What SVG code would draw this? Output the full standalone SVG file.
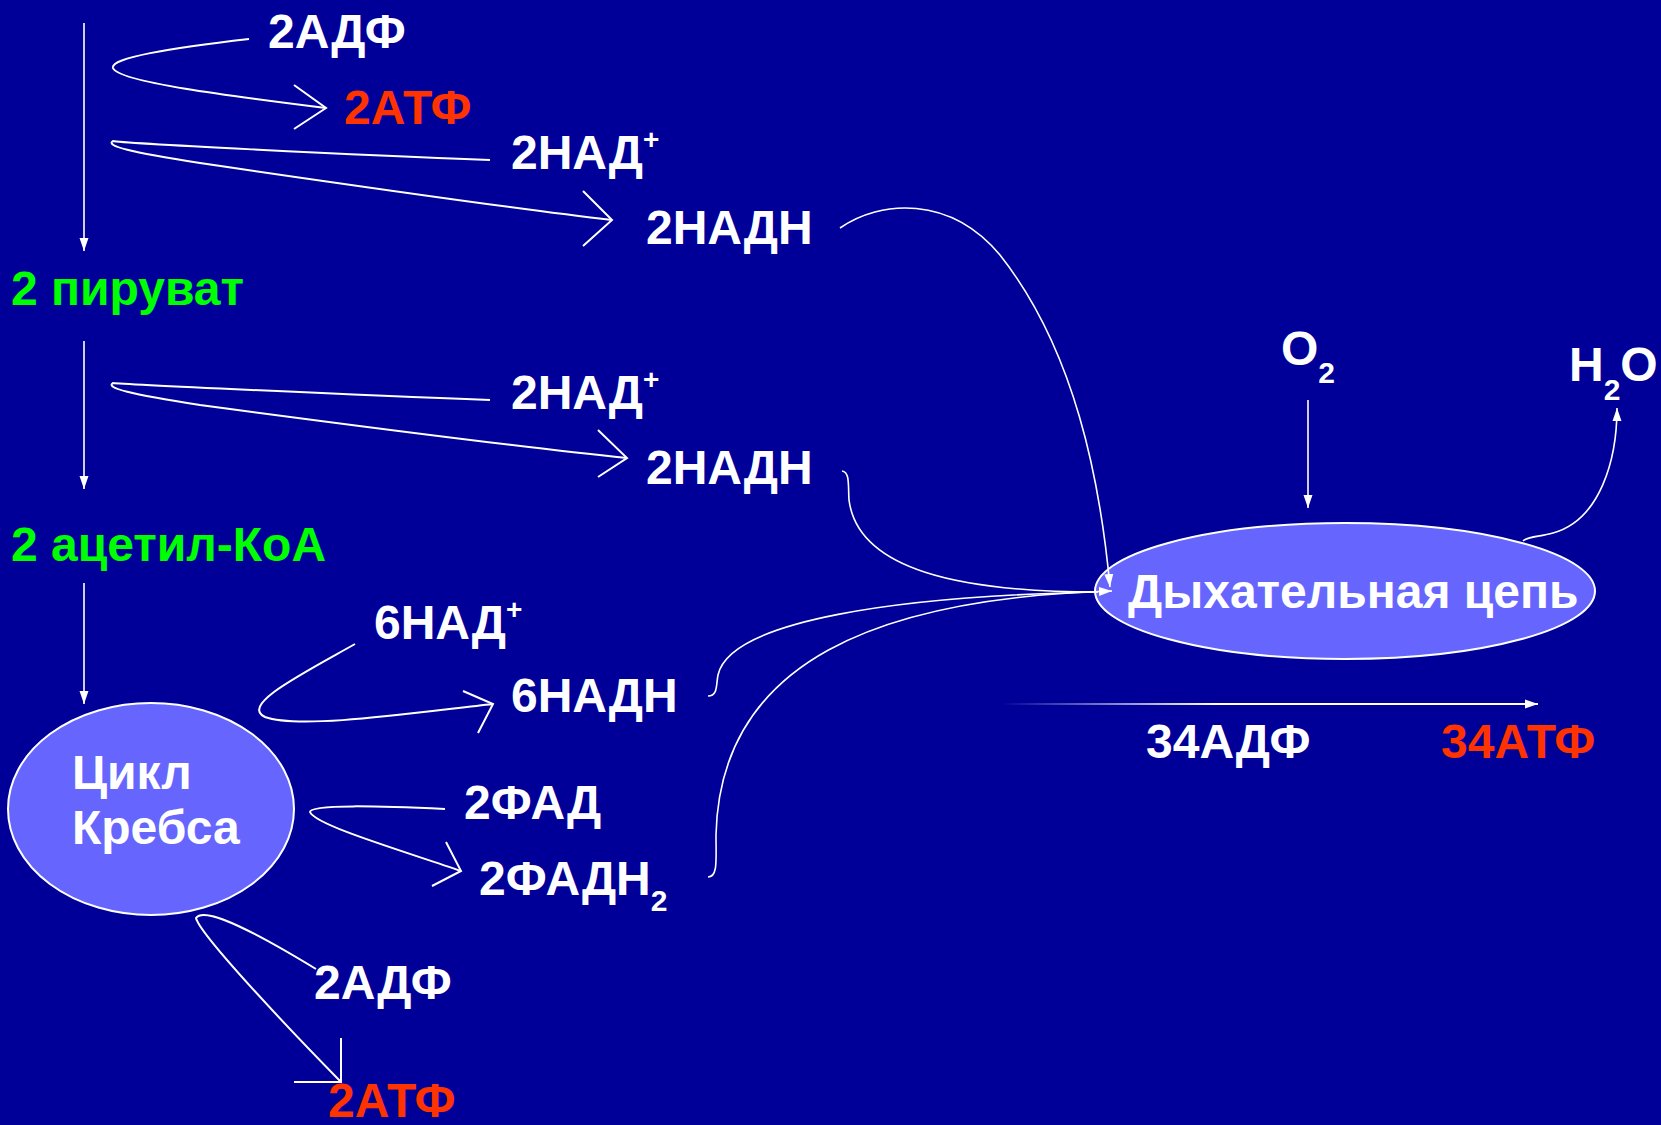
<svg xmlns="http://www.w3.org/2000/svg" width="1661" height="1125" viewBox="0 0 1661 1125">
<style>
.t{font-family:"Liberation Sans",Arial,sans-serif;font-weight:bold;font-size:48px;fill:#fff}
.g{fill:#00ff00}
.r{fill:#ff3300}
.ln{fill:none;stroke:#fff;stroke-width:2}
.th{fill:none;stroke:#fff;stroke-width:1.6}
.node{fill:#6666ff;stroke:#fff;stroke-width:2}
</style>
<defs>
<marker id="ah" markerWidth="13" markerHeight="10" refX="13" refY="5" orient="auto" markerUnits="userSpaceOnUse" viewBox="0 0 13 10">
<path d="M0,0.5 L13,5 L0,9.5 z" fill="#fff"/>
</marker>
<linearGradient id="fade" x1="1001" y1="0" x2="1538" y2="0" gradientUnits="userSpaceOnUse">
<stop offset="0" stop-color="#fff" stop-opacity="0"/>
<stop offset="0.4" stop-color="#fff" stop-opacity="1"/>
<stop offset="1" stop-color="#fff" stop-opacity="1"/>
</linearGradient>
</defs>
<rect width="1661" height="1125" fill="#000099"/>

<g id="n-adp1"><text class="t" x="268" y="48">2АДФ</text></g>
<g id="n-atp1"><text class="t r" x="344" y="124">2АТФ</text></g>
<g id="n-nad1"><text class="t" x="511" y="169">2НАД<tspan font-size="28" dy="-20">+</tspan></text></g>
<g id="n-nadh1"><text class="t" x="646" y="244">2НАДН</text></g>
<g id="n-pyr"><text class="t g" x="11" y="305">2 пируват</text></g>
<g id="n-nad2"><text class="t" x="511" y="409">2НАД<tspan font-size="28" dy="-20">+</tspan></text></g>
<g id="n-nadh2"><text class="t" x="646" y="484">2НАДН</text></g>
<g id="n-acoa"><text class="t g" x="11" y="561">2 ацетил-КоА</text></g>
<g id="n-nad6"><text class="t" x="374" y="639">6НАД<tspan font-size="28" dy="-20">+</tspan></text></g>
<g id="n-nadh6"><text class="t" x="511" y="712">6НАДН</text></g>
<g id="n-krebs">
<ellipse class="node" cx="151" cy="809" rx="143" ry="106"/>
<text class="t" x="72" y="789">Цикл</text>
<text class="t" x="72" y="844">Кребса</text>
</g>
<g id="n-fad"><text class="t" x="464" y="819">2ФАД</text></g>
<g id="n-fadh2"><text class="t" x="479" y="895">2ФАДН<tspan font-size="30" dy="16">2</tspan></text></g>
<g id="n-adp2"><text class="t" x="314" y="999">2АДФ</text></g>
<g id="n-atp2"><text class="t r" x="328" y="1117">2АТФ</text></g>
<g id="n-o2"><text class="t" x="1281" y="365">O<tspan font-size="30" dy="18">2</tspan></text></g>
<g id="n-h2o"><text class="t" x="1569" y="381">H<tspan font-size="30" dy="19">2</tspan><tspan dy="-19">O</tspan></text></g>
<g id="n-resp">
<ellipse class="node" cx="1345" cy="591" rx="250" ry="68"/>
<text class="t" x="1128" y="608">Дыхательная цепь</text>
</g>
<g id="n-adp34"><text class="t" x="1146" y="758">34АДФ</text></g>
<g id="n-atp34"><text class="t r" x="1441" y="758">34АТФ</text></g>

<g id="connectors">
<line class="th" x1="84" y1="23" x2="84" y2="251" marker-end="url(#ah)"/>
<line class="th" x1="84" y1="341" x2="84" y2="489" marker-end="url(#ah)"/>
<line class="th" x1="84" y1="583" x2="84" y2="704" marker-end="url(#ah)"/>
<line class="th" x1="1308" y1="400" x2="1308" y2="508" marker-end="url(#ah)"/>
<path class="th" d="M1523,541 C1528,536 1540,537 1553,533 C1600,520 1617,460 1617,408" marker-end="url(#ah)"/>
<line x1="1001" y1="704" x2="1538" y2="704" stroke="url(#fade)" stroke-width="2" marker-end="url(#ah)"/>

<path class="ln" d="M249,39 C170,48 110,58 113,68 C118,82 230,96 326,108"/>
<polyline class="ln" points="294,85 326,108 294,129"/>

<path class="ln" d="M490,160 C350,155 120,143 113,141 C105,146 130,152 200,163 C350,185 500,207 612,220"/>
<polyline class="ln" points="583,191 612,220 583,246"/>

<path class="ln" d="M490,400 C350,395 120,384 113,383 C105,388 130,394 200,405 C350,425 500,445 627,458"/>
<polyline class="ln" points="598,430 627,458 598,477"/>

<path class="ln" d="M355,644 C300,675 240,705 265,717 C300,730 420,712 493,704"/>
<polyline class="ln" points="463,691 493,704 478,733"/>

<path class="ln" d="M445,809 C380,806 310,804 310,812 C315,825 400,850 461,871"/>
<polyline class="ln" points="446,842 461,871 432,886"/>

<path class="ln" d="M316,969 C260,935 205,905 196,918 C200,935 290,1030 341,1082"/>
<polyline class="ln" points="341,1038 341,1082 294,1082"/>

<path class="th" d="M840,228 C880,200 950,195 1000,255 C1075,350 1100,480 1110,587" marker-end="url(#ah)"/>
<path class="th" d="M842,471 C850,472 848,485 849,500 C858,570 960,592 1098,592"/>
<path class="th" d="M708,696 C718,696 716,685 718,675 C730,620 900,596 1098,592"/>
<path class="th" d="M708,877 C718,877 716,860 716,835 C720,660 880,598 1112,591" marker-end="url(#ah)"/>
</g>
</svg>
